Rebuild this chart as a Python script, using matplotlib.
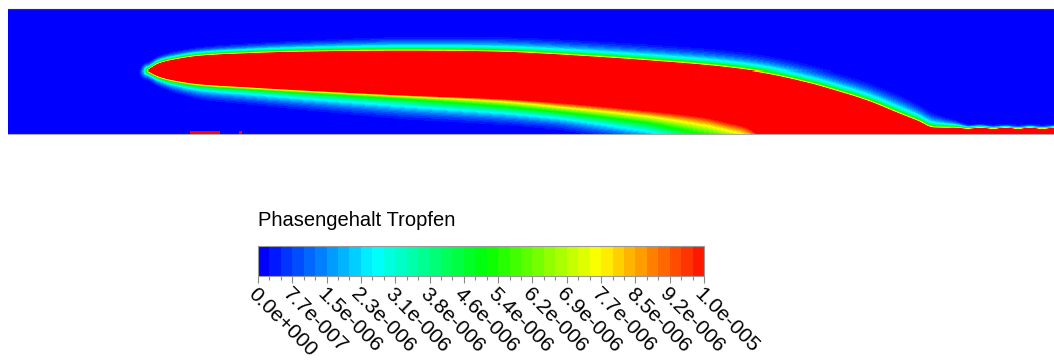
import numpy as np
import matplotlib
matplotlib.use("Agg")
import matplotlib.pyplot as plt
from matplotlib.colors import LinearSegmentedColormap, ListedColormap, BoundaryNorm
from matplotlib.cm import ScalarMappable

plt.rcParams['font.family'] = ['Liberation Sans', 'DejaVu Sans']

# ---------------- data ----------------
domain_len = 1046          # domain length (plot units)
domain_h = 124             # domain height (plot units)
vmax = 1.0e-5              # colour range of "Phasengehalt Tropfen"
n_bands = 39

# spray tip
tip_x, tip_y = 140, 63
# upper edge of the saturated spray core (and the wall film on the right)
upper_x = [140, 150, 165, 192, 240, 292, 392, 492, 572, 672, 720, 759, 800, 825,
           860, 892, 912, 922, 935, 948, 960, 972, 985, 998, 1010, 1022, 1034, 1046]
upper_y = [63, 69, 73, 77, 79.5, 81, 82, 81, 77, 70, 65.5, 60, 51, 44,
           33, 20, 12, 7, 6, 6, 5, 6, 5, 6, 5, 6, 5, 6]
# lower edge of the saturated spray core
lower_x = [140, 150, 165, 192, 240, 292, 392, 492, 552, 619, 692, 720, 739, 752]
lower_y = [63, 58, 54, 50, 47, 44, 39, 35, 31, 25, 17, 11, 6, -2]
# width of the diffuse fringe above / below the core
up_w_x = [140, 392, 759, 892, 922, 960, 1000]
up_w = [10, 18, 22, 24, 20, 5, 3]
low_w_x = [140, 192, 392, 552, 640, 692, 752]
low_w = [12, 20, 30, 32, 42, 60, 60]
low_a_x = [140, 392, 552]
low_a = [0.5, 0.35, 0.0]
# small droplet deposits on the bottom wall
dep_x0 = [182, 231]
dep_x1 = [212, 234]
dep_h = [3, 3]

title = "Phasengehalt Tropfen"


# ---------------- helpers ----------------
def hermite(xc, yc, xq):
    """Smooth (Catmull-Rom) curve through the read-off control points."""
    xc = np.asarray(xc, float)
    yc = np.asarray(yc, float)
    m = np.empty_like(yc)
    m[1:-1] = (yc[2:] - yc[:-2]) / (xc[2:] - xc[:-2])
    m[0] = (yc[1] - yc[0]) / (xc[1] - xc[0])
    m[-1] = (yc[-1] - yc[-2]) / (xc[-1] - xc[-2])
    xq = np.clip(xq, xc[0], xc[-1])
    i = np.clip(np.searchsorted(xc, xq) - 1, 0, len(xc) - 2)
    h = xc[i + 1] - xc[i]
    t = (xq - xc[i]) / h
    h00 = 2 * t**3 - 3 * t**2 + 1
    h10 = t**3 - 2 * t**2 + t
    h01 = -2 * t**3 + 3 * t**2
    h11 = t**3 - t**2
    return h00 * yc[i] + h10 * h * m[i] + h01 * yc[i + 1] + h11 * h * m[i + 1]


def fringe(d, a, w):
    return a * np.exp(-d / 1.5) + (1 - a) * np.clip(1 - d / w, 0, None) ** 2


# ---------------- field ----------------
xs = np.arange(domain_len) + 0.5
ys = np.arange(domain_h) + 0.5
X, Y = np.meshgrid(xs, ys)
U = hermite(upper_x, upper_y, X)
L = hermite(lower_x, lower_y, X)
L = np.where(X > lower_x[-1], -5, L)
wu = np.interp(X, up_w_x, up_w)
wl = np.interp(X, low_w_x, low_w)
al = np.interp(X, low_a_x, low_a)

d_up = np.clip(Y - U, 0, None)
d_low = np.clip(L - Y, 0, None)
d_tip = np.hypot(X - tip_x, Y - tip_y)
front = X < tip_x
d_up = np.where(front, d_tip, d_up)
d_low = np.where(front, d_tip, d_low)

f_up = fringe(d_up, 0.5, wu)
f_low = fringe(d_low, al, wl)
inside = (~front) & (Y <= U) & (Y >= L)
for x0, x1, h in zip(dep_x0, dep_x1, dep_h):
    inside |= (X >= x0) & (X <= x1) & (Y <= h)
use_up = (Y > U) | (front & (Y >= tip_y))
field = np.where(inside, 1.05, np.where(use_up, f_up, f_low)) * vmax

# ---------------- colours ----------------
base = LinearSegmentedColormap.from_list(
    "bcgyr", [(0, 0, 1), (0, 1, 1), (0, 1, 0), (1, 1, 0), (1, 0, 0)])
cmap = ListedColormap([base(i / n_bands) for i in range(n_bands)])
cmap.set_over((1, 0, 0))
cmap.set_under((0, 0, 1))
levels = np.linspace(0, vmax, n_bands + 1)
norm = BoundaryNorm(levels, n_bands)

# ---------------- figure ----------------
W, H = 1054, 364
fig = plt.figure(figsize=(W / 100, H / 100), dpi=100)

ax = fig.add_axes([8 / W, 1 - 134 / H, 1046 / W, 125 / H])
ax.imshow(field, origin="lower", extent=[0, domain_len, 0, domain_h],
          cmap=cmap, norm=norm, interpolation="nearest", aspect="auto")
ax.set_xticks([])
ax.set_yticks([])
for s in ("left", "right"):
    ax.spines[s].set_visible(False)
ax.spines["top"].set_color("#333333")
ax.spines["bottom"].set_color("#aaaaaa")

fig.text(258 / W, 1 - 226 / H, title, fontsize=14.5, ha="left", va="baseline")

cax = fig.add_axes([258 / W, 1 - 276 / H, 446 / W, 30.5 / H])
sm = ScalarMappable(norm=norm, cmap=cmap)
cb = fig.colorbar(sm, cax=cax, orientation="horizontal", extend="neither")
major = levels[::3]


def fmt(v):
    m, e = f"{v:.1e}".split("e")
    sign = "-" if int(e) < 0 else "+"
    return f"{m}e{sign}{abs(int(e)):03d}"


cb.set_ticks(major)
cb.ax.xaxis.set_ticks(levels, minor=True)
cb.set_ticklabels([fmt(v) for v in major])
cb.outline.set_edgecolor("#999999")
cb.outline.set_linewidth(0.8)
cb.ax.tick_params(which="major", length=5, width=0.8, color="#888888", pad=1)
cb.ax.tick_params(which="minor", length=3, width=0.8, color="#888888")
for t in cb.ax.get_xticklabels():
    t.set_rotation(-45)
    t.set_rotation_mode("anchor")
    t.set_ha("left")
    t.set_va("top")
    t.set_fontsize(15)

fig.savefig("out.png", dpi=100)
